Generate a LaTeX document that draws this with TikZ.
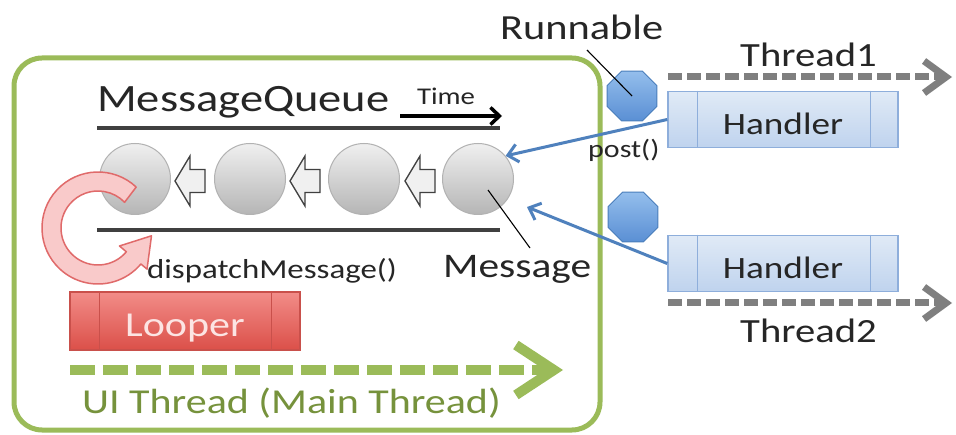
\documentclass[tikz,border=0pt]{standalone}
\usepackage{fontspec}
\setmainfont[FakeStretch=1.2]{Carlito}
\usetikzlibrary{arrows.meta,shapes.geometric,calc}
\definecolor{uigreen}{HTML}{9BBB59}
\definecolor{uitext}{HTML}{76923C}
\definecolor{txt}{HTML}{262626}
\definecolor{qline}{HTML}{404040}
\definecolor{thr}{HTML}{7F7F7F}
\definecolor{blueline}{HTML}{4F81BD}
\definecolor{hfilltop}{HTML}{E0EAF6}
\definecolor{hfillbot}{HTML}{BFD3EE}
\definecolor{hdraw}{HTML}{8EAEDB}
\definecolor{octtop}{HTML}{94BEEC}
\definecolor{octbot}{HTML}{5A8FD4}
\definecolor{octdraw}{HTML}{4A7EBB}
\definecolor{lptop}{HTML}{F28C88}
\definecolor{lpbot}{HTML}{DB5049}
\definecolor{lpdraw}{HTML}{C9504B}
\definecolor{lptext}{HTML}{FCE4E3}
\definecolor{ringfill}{HTML}{F9CACA}
\definecolor{ringdraw}{HTML}{E06A6A}
\begin{document}
\begin{tikzpicture}[x=1pt,y=1pt,
  fs/.style={font=\fontsize{#1}{#1}\selectfont},
  lbl/.style={inner sep=0pt, text=txt},
  msg/.style={circle, minimum size=71pt, inner sep=0pt, top color=gray!12, bottom color=gray!58, draw=gray!60, line width=1pt},
  harrow/.pic={\draw[fill=gray!12, draw=qline, line width=1.3pt, line join=miter] (0,0) -- (15,25) -- (15,11.5) -- (30,11.5) -- (30,-11.5) -- (15,-11.5) -- (15,-25) -- cycle;},
  handler/.style={rectangle, minimum width=230pt, minimum height=56pt, inner sep=0pt, top color=hfilltop, bottom color=hfillbot, draw=hdraw, line width=1.5pt, text=txt, fs=31, text height=31pt, text depth=0pt},
  hsep/.style={draw=hdraw, line width=1.2pt},
  looper/.style={rectangle, minimum width=230pt, minimum height=58pt, inner sep=0pt, top color=lptop, bottom color=lpbot, draw=lpdraw, line width=1.2pt, text=lptext, fs=35, text height=32pt, text depth=0pt},
  lsep/.style={draw=lpdraw, line width=1pt},
  oct/.style={regular polygon, regular polygon sides=8, minimum size=54pt, inner sep=0pt, top color=octtop, bottom color=octbot, draw=octdraw, line width=1pt},
  thrarrow/.style={draw=thr, line width=7pt, dash pattern=on 14pt off 5pt, -{Straight Barb[length=22pt,width=32pt]}},
  uiarrow/.style={draw=uigreen, line width=10pt, dash pattern=on 25pt off 8pt, -{Straight Barb[length=38pt,width=50pt]}},
  bluearr/.style={draw=blueline, line width=3pt, -{Straight Barb[length=10pt,width=18pt]}},
  thin/.style={draw=black, line width=1.1pt}
]
\useasboundingbox (0,0) rectangle (956,434);
\fill[white] (0,0) rectangle (956,434);

% UI thread container
\node[draw=uigreen, line width=5pt, rounded corners=28pt, minimum width=586pt, minimum height=372pt, inner sep=0pt] (ui) at (307,190) {};

% Message queue
\node[lbl, fs=38.7, anchor=base west] (mq) at (97,322) {MessageQueue};
\node[lbl, fs=24, anchor=base] (time) at (446,329) {Time};
\coordinate (ta1) at (400,318);
\coordinate (ta2) at (502,318);
\draw[black, line width=3.5pt, -{Straight Barb[length=9pt,width=17pt]}] (ta1) -- (ta2);

\coordinate (qtl) at (97,306);
\coordinate (qtr) at (500,306);
\coordinate (qbl) at (97,204);
\coordinate (qbr) at (500,204);
\draw[qline, line width=4pt] (qtl) -- (qtr);
\draw[qline, line width=4pt] (qbl) -- (qbr);

\node[msg] (c1) at (135,255) {};
\node[msg] (c2) at (250,255) {};
\node[msg] (c3) at (364,255) {};
\node[msg] (c4) at (478,255) {};
\pic (ha1) at (175,253) {harrow};
\pic (ha2) at (290,253) {harrow};
\pic (ha3) at (405,253) {harrow};

% red loop arrow
\coordinate (rc) at (98,206);
\draw[fill=ringfill, draw=ringdraw, line width=1.5pt, line join=round]
  ($(rc)+(47:56)$) arc[start angle=47,end angle=320,radius=56]
  -- ($(rc)+(320:64)$) -- ($(rc)+(53.5,-7.8)$) -- ($(rc)+(320:28)$)
  -- ($(rc)+(320:37)$) arc[start angle=320,end angle=44,radius=37] -- cycle;

\node[lbl, fs=27.4, anchor=base west] (disp) at (147,155) {dispatchMessage()};
\node[lbl, fs=34.5, anchor=base west] (msgt) at (443,156) {Message};
\coordinate (ml1) at (488,244);
\coordinate (ml2) at (530,186);
\draw[thin] (ml1) -- (ml2);

% Looper
\node[looper] (lp) at (185,113) {Looper};
\draw[lsep] ($(lp.north west)+(30,0)$) -- ($(lp.south west)+(30,0)$);
\draw[lsep] ($(lp.north east)+(-29,0)$) -- ($(lp.south east)+(-29,0)$);

% UI thread arrow
\coordinate (u1) at (70,64);
\coordinate (u2) at (563,64);
\draw[uiarrow] (u1) -- (u2);
\node[inner sep=0pt, text=uitext, fs=35, anchor=base west] (uit) at (82,21) {UI Thread (Main Thread)};

% Handlers
\node[handler] (h1) at (783,314.5) {Handler};
\draw[hsep] ($(h1.north west)+(30,0)$) -- ($(h1.south west)+(30,0)$);
\draw[hsep] ($(h1.north east)+(-28,0)$) -- ($(h1.south east)+(-28,0)$);
\node[handler] (h2) at (783,170.5) {Handler};
\draw[hsep] ($(h2.north west)+(30,0)$) -- ($(h2.south west)+(30,0)$);
\draw[hsep] ($(h2.north east)+(-28,0)$) -- ($(h2.south east)+(-28,0)$);

% post arrows
\coordinate (a2) at (527,227);
\draw[bluearr] (h1.west) -- (c4.40);
\draw[bluearr] (h2.west) -- (a2);

% Runnables
\node[oct] (o1) at (632,338) {};
\node[oct] (o2) at (633,217) {};
\node[lbl, fs=35.3, anchor=base west] (run) at (500,394) {Runnable};
\coordinate (rl) at (587,384);
\draw[thin] (rl) -- (o1.center);
\node[lbl, fs=25, anchor=base west] (post) at (588,276) {post()};

% Threads
\coordinate (t1s) at (668,357);
\coordinate (t1e) at (952,357);
\draw[thrarrow] (t1s) -- (t1e);
\node[lbl, fs=33.9, anchor=base west] (th1) at (740,367) {Thread1};
\coordinate (t2s) at (668,131);
\coordinate (t2e) at (952,131);
\draw[thrarrow] (t2s) -- (t2e);
\node[lbl, fs=33.9, anchor=base west] (th2) at (740,91) {Thread2};
\end{tikzpicture}
\end{document}
